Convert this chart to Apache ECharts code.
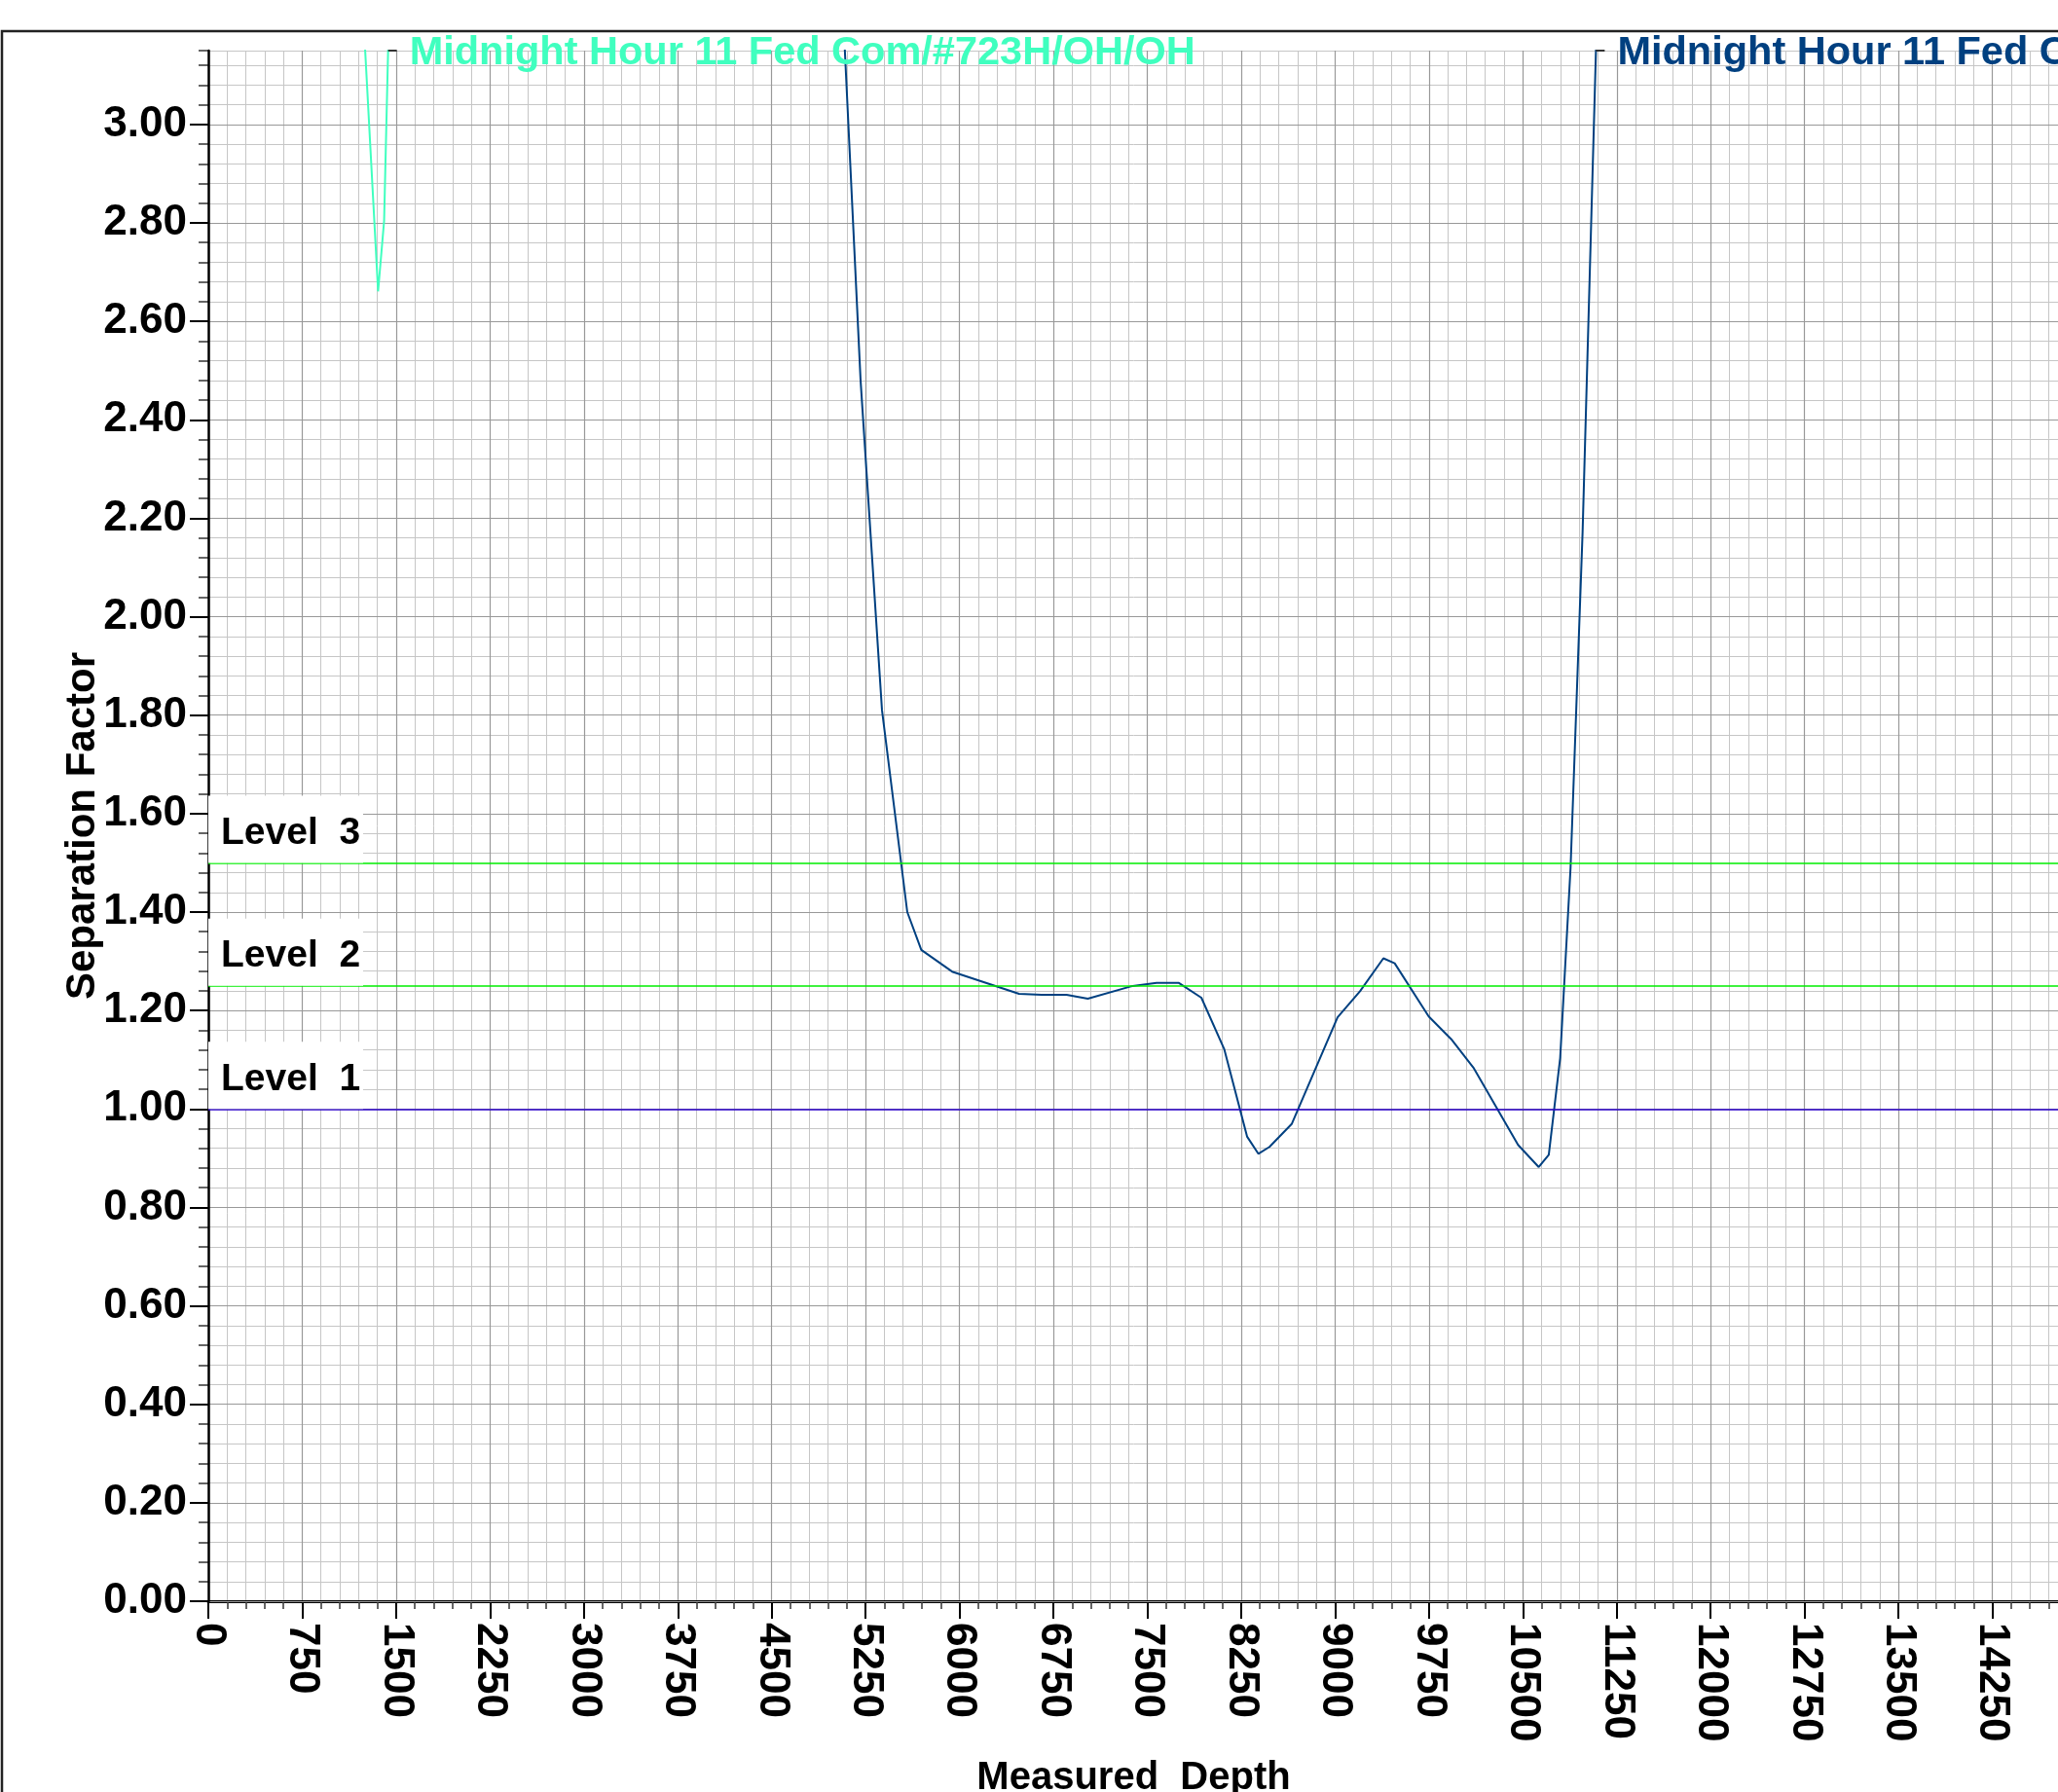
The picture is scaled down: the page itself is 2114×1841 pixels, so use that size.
<!DOCTYPE html>
<html>
<head>
<meta charset="utf-8">
<title>Separation Factor</title>
<script src="https://cdn.jsdelivr.net/npm/echarts@6/dist/echarts.min.js"></script>
<style>
  html, body { margin: 0; padding: 0; background: #ffffff; }
  #chart { width: 2114px; height: 1841px; }
</style>
</head>
<body>
<div id="chart"></div>
<script>
// separation factor vs measured depth
const FONT = '"Liberation Sans", Arial, Helvetica, sans-serif';
const Y_MAX = 3.15;
const X_MAX = 15000;

const xTicks = [0, 750, 1500, 2250, 3000, 3750, 4500, 5250, 6000, 6750, 7500,
    8250, 9000, 9750, 10500, 11250, 12000, 12750, 13500, 14250];
const yTicks = [0, 0.2, 0.4, 0.6, 0.8, 1.0, 1.2, 1.4, 1.6, 1.8, 2.0, 2.2, 2.4,
    2.6, 2.8, 3.0];

// offset well #723H (teal)
const tealName = "Midnight Hour 11 Fed Com/#723H/OH/OH";
const tealDepth = [1200, 1356, 1404, 1460];
const tealSF = [3.40, 2.661, 2.804, 3.41];

// offset well (blue, label cut off at the right edge)
const blueName = "Midnight Hour 11 Fed Com";
const blueDepth = [5000, 5210, 5381, 5583, 5695, 5941, 6476, 6655, 6855, 7025,
    7369, 7574, 7753, 7932, 8114, 8297, 8387, 8476, 8655, 9020, 9199, 9386,
    9476, 9748, 9927, 10105, 10462, 10627, 10707, 10798, 10881, 10977, 11110];
const blueSF = [3.60, 2.48, 1.81, 1.40, 1.323, 1.279, 1.234, 1.232, 1.232, 1.224,
    1.249, 1.256, 1.256, 1.226, 1.122, 0.944, 0.909, 0.923, 0.970, 1.186, 1.239, 1.306,
    1.296, 1.188, 1.142, 1.084, 0.927, 0.882, 0.907, 1.103, 1.490, 2.171, 3.39];

const levelNames = ["Level  3", "Level  2", "Level  1"];
const levelValues = [1.5, 1.25, 1.0];
const levelColors = ["#00ee00", "#00ee00", "#2a00c8"];

function pairs(xs, ys) {
    return xs.map(function (x, i) { return [x, ys[i]]; });
}

// depth where the curve leaves through the top of the plot (last crossing)
function topExit(xs, ys, top) {
    let hit = xs[xs.length - 1];
    for (let i = 1; i < xs.length; i++) {
        const a = ys[i - 1], b = ys[i];
        if ((a - top) * (b - top) <= 0 && a !== b) {
            hit = xs[i - 1] + (top - a) / (b - a) * (xs[i] - xs[i - 1]);
        }
    }
    return hit;
}

function wellLabel(name, color, xs, ys) {
    return {
        silent: true,
        symbol: "rect",
        symbolSize: [9, 2],
        symbolOffset: [4.5, 0],
        itemStyle: { color: "#333333" },
        label: {
            show: true,
            position: "right",
            distance: 13,
            offset: [0, 3],
            formatter: name,
            color: color,
            fontFamily: FONT,
            fontSize: 41.5,
            fontWeight: "bold",
        },
        data: [{ coord: [topExit(xs, ys, Y_MAX), Y_MAX] }],
    };
}

const chart = echarts.init(document.getElementById("chart"), null, { renderer: "canvas" });

const option = {
    backgroundColor: "#ffffff",
    animation: false,
    graphic: [
        {
            type: "rect",
            shape: { x: 2, y: 32, width: 2400, height: 2100 },
            style: { fill: "none", stroke: "#222222", lineWidth: 2.5 },
            z: -1,
        },
    ],
    grid: {
        left: 214,
        top: 52,
        width: 1929,
        bottom: 196,
        containLabel: false,
        outerBoundsMode: "none",
    },
    xAxis: {
        type: "value",
        min: 0,
        max: X_MAX,
        interval: 750,
        name: "Measured  Depth",
        nameLocation: "middle",
        nameGap: 162,
        nameMoveOverlap: false,
        nameTextStyle: {
            fontFamily: FONT,
            fontSize: 40,
            fontWeight: "bold",
            color: "#000000",
            padding: [0, 28, 0, 0],
        },
        axisLine: { show: true, onZero: false, lineStyle: { color: "#000000", width: 3 } },
        axisTick: { show: true, length: 18, lineStyle: { color: "#000000", width: 2 } },
        minorTick: { show: true, splitNumber: 5, length: 8, lineStyle: { color: "#333333", width: 1.5 } },
        axisLabel: {
            rotate: -90,
            margin: 22,
            customValues: xTicks,
            formatter: function (v) { return String(v); },
            fontFamily: FONT,
            fontSize: 44,
            fontWeight: "bold",
            color: "#000000",
        },
        splitLine: { show: true, lineStyle: { color: "#999999", width: 1.2 } },
        minorSplitLine: { show: true, lineStyle: { color: "#c6c6c6", width: 1 } },
    },
    yAxis: [
        {
            // major scale with labels
            type: "value",
            position: "left",
            min: 0,
            max: Y_MAX,
            interval: 0.2,
            z: 1,
            name: "Separation Factor",
            nameLocation: "middle",
            nameGap: 108,
            nameMoveOverlap: false,
            nameTextStyle: {
                fontFamily: FONT,
                fontSize: 42,
                fontWeight: "bold",
                color: "#000000",
            },
            axisLine: { show: true, onZero: false, lineStyle: { color: "#000000", width: 2.5 } },
            axisTick: { show: true, length: 19, customValues: yTicks, lineStyle: { color: "#000000", width: 2 } },
            axisLabel: {
                customValues: yTicks,
                margin: 22,
                formatter: function (v) { return v.toFixed(2); },
                fontFamily: FONT,
                fontSize: 44,
                fontWeight: "bold",
                color: "#000000",
            },
            splitLine: { show: true, lineStyle: { color: "#999999", width: 1.2 } },
        },
        {
            // minor grid every 0.04
            type: "value",
            position: "left",
            min: 0,
            max: Y_MAX,
            interval: 0.04,
            z: 0,
            axisLine: { show: false },
            axisTick: { show: true, length: 10, lineStyle: { color: "#333333", width: 1.5 } },
            axisLabel: { show: false },
            splitLine: { show: true, lineStyle: { color: "#c6c6c6", width: 1 } },
        },
    ],
    series: [
        {
            name: tealName,
            type: "line",
            yAxisIndex: 0,
            data: pairs(tealDepth, tealSF),
            symbol: "none",
            clip: true,
            lineStyle: { color: "#40ffbf", width: 2 },
            markPoint: wellLabel(tealName, "#40ffbf", tealDepth, tealSF),
            z: 3,
        },
        {
            name: blueName,
            type: "line",
            yAxisIndex: 0,
            data: pairs(blueDepth, blueSF),
            symbol: "none",
            clip: true,
            lineStyle: { color: "#004080", width: 2 },
            markPoint: wellLabel(blueName, "#004080", blueDepth, blueSF),
            z: 3,
        },
        {
            name: "levels",
            type: "line",
            yAxisIndex: 0,
            data: [],
            z: 2,
            markLine: {
                silent: true,
                symbol: "none",
                label: {
                    show: true,
                    position: "insideStartTop",
                    distance: 0,
                    formatter: "{b}",
                    backgroundColor: "#ffffff",
                    padding: [18, 13, 10, 13],
                    width: 133,
                    lineHeight: 41,
                    align: "left",
                    fontFamily: FONT,
                    fontSize: 39,
                    fontWeight: "bold",
                    color: "#000000",
                },
                data: levelValues.map(function (v, i) {
                    return {
                        yAxis: v,
                        name: levelNames[i],
                        lineStyle: { color: levelColors[i], width: 1.5, type: "solid" },
                    };
                }),
            },
        },
    ],
};

chart.setOption(option);
</script>
</body>
</html>
